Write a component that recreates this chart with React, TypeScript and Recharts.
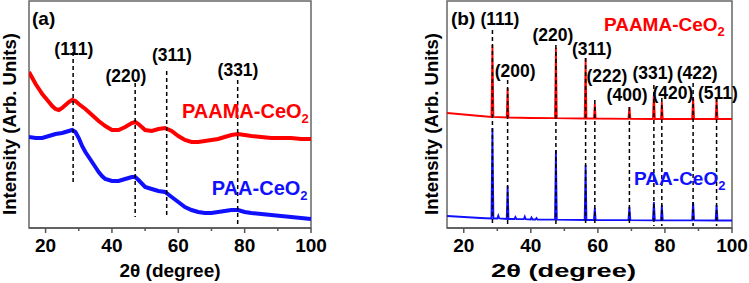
import { LineChart, Line, XAxis, YAxis, ReferenceLine, ReferenceArea, ReferenceDot } from 'recharts'

const FONT = 'Liberation Sans, Arial, Helvetica, sans-serif'
const xTicks = [20, 30, 40, 50, 60, 70, 80, 90, 100]

// panel (a) – broad humps, [2θ, intensity a.u.]
const paamaA: [number, number][] = [
  [15, 156], [16, 150], [17, 144], [18, 139], [19, 134], [20, 130], [21, 126], [22, 122], [23, 119], [24, 118],
  [25, 120], [26, 123], [27, 126], [28, 128], [29, 127], [30, 124], [32, 119], [34, 113], [36, 107], [38, 102],
  [40, 98], [42, 98], [44, 101], [46, 105], [47, 106], [48, 104], [50, 98], [52, 97], [54, 99], [56, 100],
  [58, 97], [60, 92], [62, 88], [64, 86], [66, 86], [68, 87], [70, 88], [72, 89], [74, 91], [76, 93],
  [78, 94], [80, 93], [82, 92], [85, 91], [88, 90], [91, 90], [94, 90], [97, 89], [100, 89],
]
const paaA: [number, number][] = [
  [15, 91], [17, 90], [19, 90], [21, 92], [23, 94], [25, 95], [27, 97], [28, 98], [29, 96], [30, 90],
  [31, 82], [32, 76], [33, 71], [34, 66], [35, 61], [36, 56], [37, 52], [38, 49], [40, 47], [42, 47],
  [44, 49], [46, 51], [47, 51], [48, 48], [50, 41], [52, 39], [54, 37], [56, 36], [58, 31], [60, 26],
  [62, 21], [64, 18], [66, 16], [68, 15], [70, 15], [72, 16], [74, 17], [76, 18], [78, 18], [80, 16],
  [82, 15], [85, 14], [88, 13], [91, 12], [94, 11], [97, 10], [100, 9],
]
const dashesA = [
  { t: 28.3, top: 183, bottom: 45 },
  { t: 47.0, top: 145, bottom: 11 },
  { t: 56.5, top: 157, bottom: 10 },
  { t: 77.9, top: 148, bottom: 1 },
]
const hklA = [
  { t: 28.5, i: 178, text: '(111)' },
  { t: 44.2, i: 151, text: '(220)' },
  { t: 58.1, i: 172, text: '(311)' },
  { t: 78.0, i: 157, text: '(331)' },
]

// panel (b) – sharp reflections
const paamaB: [number, number][] = [
  [15, 115], [20, 113.5], [25, 112], [28.25, 111], [28.55, 183], [28.85, 111], [32.8, 110.5], [33.08, 140], [33.35, 110.5],
  [40, 110], [47.2, 109.8], [47.48, 180], [47.75, 109.8], [56.05, 109.5], [56.34, 170], [56.6, 109.5],
  [58.8, 109.5], [59.09, 124], [59.35, 109.5], [69.1, 109.2], [69.4, 121], [69.7, 109.2],
  [76.4, 109], [76.7, 135], [77, 109], [78.8, 109], [79.07, 126], [79.35, 109],
  [88.1, 109], [88.4, 131], [88.7, 109], [95.1, 109], [95.4, 129], [95.7, 109], [100, 109],
]
const paaB: [number, number][] = [
  [15, 12], [20, 11], [25, 10], [28.25, 9.5], [28.55, 100], [28.85, 9.5], [30, 9.5], [30.3, 12.5], [30.6, 9.5],
  [32.8, 9], [33.08, 42], [33.35, 9], [35.1, 9], [35.4, 11], [35.7, 9], [37.9, 8.8], [38.2, 11.5], [38.5, 8.8],
  [39.9, 8.5], [40.2, 10.5], [40.5, 8.5], [41.4, 8.5], [41.7, 10], [42, 8.5], [47.2, 8.3], [47.48, 78], [47.75, 8.3],
  [56.05, 8], [56.34, 63], [56.6, 8], [58.8, 8], [59.09, 20], [59.35, 8], [69.1, 7.8], [69.4, 21], [69.7, 7.8],
  [76.4, 7.7], [76.7, 26], [77, 7.7], [78.8, 7.7], [79.07, 23], [79.35, 7.7],
  [88.1, 7.6], [88.4, 26], [88.7, 7.6], [95.1, 7.5], [95.4, 23], [95.7, 7.5], [100, 7.5],
]
const dashesB = [
  { t: 28.55, top: 198, bottom: 2 },
  { t: 33.08, top: 148, bottom: 2 },
  { t: 47.48, top: 183, bottom: 2 },
  { t: 56.34, top: 170, bottom: 2 },
  { t: 59.09, top: 128, bottom: 2 },
  { t: 69.4, top: 121, bottom: 2 },
  { t: 76.7, top: 143, bottom: 2 },
  { t: 79.07, top: 130, bottom: 2 },
  { t: 88.4, top: 145, bottom: 2 },
  { t: 95.4, top: 130, bottom: 2 },
]
const hklB = [
  { t: 30.8, i: 208, text: '(111)' },
  { t: 35.3, i: 156, text: '(200)' },
  { t: 46.6, i: 192, text: '(220)' },
  { t: 58.2, i: 178, text: '(311)' },
  { t: 62.7, i: 151, text: '(222)' },
  { t: 68.7, i: 132, text: '(400)' },
  { t: 76.4, i: 154, text: '(331)' },
  { t: 82.4, i: 134, text: '(420)' },
  { t: 89.6, i: 154, text: '(422)' },
  { t: 95.8, i: 134, text: '(511)' },
]

const toPts = (arr: [number, number][]) => arr.map(([t, i]) => ({ t, i }))

const Tick = (props: any) => {
  const { x, y, payload } = props
  const major = payload.value % 20 === 0
  return (
    <g>
      <line x1={x} x2={x} y1={y} y2={y + (major ? 5 : 3)} stroke="#555" strokeWidth={1.5} />
      {major && (
        <text x={x} y={y + 24} textAnchor="middle" fontSize={19} fontWeight="bold" fontFamily={FONT} fill="#000">
          {payload.value}
        </text>
      )}
    </g>
  )
}

const textDot = (content: any, size: number, color: string, anchor: string, dy: string) => (p: any) => (
  <text x={p.cx} y={p.cy} dy={dy} textAnchor={anchor} fontSize={size} fontWeight="bold" fontFamily={FONT} fill={color}>
    {content}
  </text>
)

const name = (s: string) => (
  <>
    {s}
    <tspan fontSize={13} dy={5}>2</tspan>
  </>
)

function Panel({ left, width, marginLeft, tag, red, blue, dashes, hkl, names, lineW, xLabelDx, xLabelLen, yLabelDx }: any) {
  return (
    <div style={{ position: 'absolute', left, top: 0 }}>
      <LineChart width={width} height={283} margin={{ top: 1, right: width - (marginLeft + 29) - 285 + (left === 0 ? 3 : 0), bottom: 0, left: marginLeft }}>
        <XAxis
          dataKey="t"
          type="number"
          domain={[15, 100]}
          ticks={xTicks}
          interval={0}
          allowDataOverflow
          height={55}
          tickSize={0}
          tickMargin={0}
          tick={<Tick />}
          tickLine={false}
          axisLine={{ stroke: '#555', strokeWidth: 1.5 }}
          label={(p: any) => {
            const vb = p.viewBox
            return (
              <text x={vb.x + vb.width / 2 + xLabelDx} y={vb.y + 49} textAnchor="middle" fontSize={19} fontWeight="bold" fontFamily={FONT} fill="#000"
                textLength={xLabelLen} lengthAdjust="spacingAndGlyphs">
                2θ (degree)
              </text>
            )
          }}
        />
        <YAxis
          type="number"
          domain={[0, 227]}
          allowDataOverflow
          width={29}
          tick={false}
          tickLine={false}
          axisLine={false}
          label={(p: any) => {
            const vb = p.viewBox
            const x = vb.x + vb.width / 2 + yLabelDx
            const y = 124
            return (
              <text x={x} y={y} transform={`rotate(-90 ${x} ${y})`} textAnchor="middle" fontSize={18.5} fontWeight="bold" fontFamily={FONT} fill="#000">
                Intensity (Arb. Units)
              </text>
            )
          }}
        />
        <ReferenceArea x1={15} x2={100} y1={0} y2={227} fill="none" stroke="#666" strokeWidth={1.5} />
        <Line data={toPts(red)} dataKey="i" type="linear" stroke="#ff0000" strokeWidth={lineW} dot={false} isAnimationActive={false} />
        <Line data={toPts(blue)} dataKey="i" type="linear" stroke="#1010ff" strokeWidth={lineW} dot={false} isAnimationActive={false} />
        {dashes.map((d: any) => (
          <ReferenceLine key={d.t} segment={[{ x: d.t, y: d.top }, { x: d.t, y: d.bottom }]} stroke="#000" strokeWidth={1.5} strokeDasharray="4 3" />
        ))}
        {hkl.map((h: any) => (
          <ReferenceDot key={h.text} x={h.t} y={h.i} r={0} shape={textDot(h.text, 17.5, '#000', 'middle', '0.26em')} />
        ))}
        <ReferenceDot x={tag.t} y={tag.i} r={0} shape={textDot(tag.text, 19, '#000', 'start', '0.26em')} />
        {names.map((n: any) => (
          <ReferenceDot key={n.text} x={n.t} y={n.i} r={0} shape={textDot(name(n.text), n.size, n.color, 'start', '0.36em')} />
        ))}
      </LineChart>
    </div>
  )
}

export default function App() {
  return (
    <div style={{ position: 'absolute', left: 0, top: 0, width: 749, height: 283, background: '#fff' }}>
      <Panel
        left={0}
        width={335}
        marginLeft={0}
        tag={{ t: 15.9, i: 207.5, text: '(a)' }}
        red={paamaA}
        blue={paaA}
        dashes={dashesA}
        hkl={hklA}
        names={[
          { t: 61.1, i: 117, text: 'PAAMA-CeO', color: '#ff0000', size: 20 },
          { t: 70.1, i: 40, text: 'PAA-CeO', color: '#1010ff', size: 20 },
        ]}
        lineW={4}
        xLabelDx={0}
        xLabelLen={undefined}
        yLabelDx={1}
      />
      <Panel
        left={375}
        width={374}
        marginLeft={43}
        tag={{ t: 16.2, i: 208, text: '(b)' }}
        red={paamaB}
        blue={paaB}
        dashes={dashesB}
        hkl={hklB}
        names={[
          { t: 61.8, i: 204, text: 'PAAMA-CeO', color: '#ff0000', size: 19 },
          { t: 70.8, i: 50, text: 'PAA-CeO', color: '#1010ff', size: 19 },
        ]}
        lineW={1.8}
        xLabelDx={-26}
        xLabelLen={145}
        yLabelDx={5}
      />
    </div>
  )
}
